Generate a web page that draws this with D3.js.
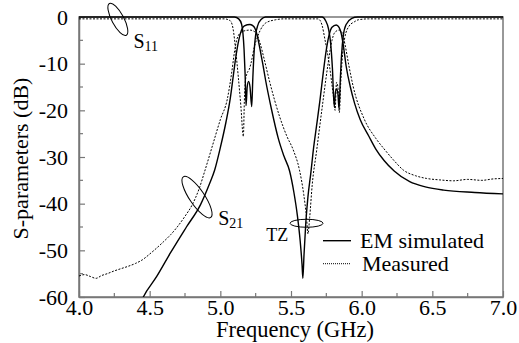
<!DOCTYPE html>
<html>
<head>
<meta charset="utf-8">
<script src="https://cdn.jsdelivr.net/npm/d3@7"></script>
<style>
  body { margin: 0; background: #fff; }
  svg text { font-family: "Liberation Serif", "Times New Roman", Tinos, "DejaVu Serif", serif; fill: #000; }
</style>
</head>
<body>
<div id="chart"></div>
<script>
// S-parameter traces, [frequency GHz, dB]
var s21Em = [[4.40,-64],[4.455,-60],[4.55,-55.6],[4.65,-50.4],[4.76,-45],[4.86,-40.2],[4.92,-36],[4.96,-32.8],
  [5.00,-28],[5.04,-22.5],[5.07,-17.5],[5.09,-13],[5.11,-8.5],[5.13,-5],[5.15,-2.8],[5.17,-1.9],[5.21,-1.6],
  [5.235,-2.0],[5.25,-2.8],[5.265,-4.5],[5.28,-6.8],[5.30,-10],[5.32,-13.5],[5.36,-19.5],[5.41,-26],[5.45,-29.8],
  [5.49,-33],[5.52,-37.5],[5.545,-42.5],[5.565,-48],[5.578,-53],[5.584,-56],[5.592,-51],[5.605,-44],[5.62,-38.5],
  [5.64,-33.5],[5.66,-28],[5.68,-23.5],[5.705,-17.8],[5.73,-11.5],[5.75,-7],[5.77,-3.8],[5.79,-2.2],[5.82,-1.7],
  [5.84,-2.2],[5.855,-3.5],[5.87,-6],[5.89,-10.5],[5.92,-15],[5.95,-18.5],[5.99,-22],[6.05,-25.5],[6.10,-28.3],
  [6.16,-30.8],[6.23,-33],[6.34,-35.3],[6.45,-36.4],[6.58,-37.1],[6.8,-37.6],[7.0,-37.9]];

var s21Meas = [[4.0,-55.5],[4.04,-55.2],[4.08,-55.6],[4.12,-56.0],[4.16,-55.4],[4.20,-55.0],[4.25,-54.4],[4.30,-53.9],
  [4.35,-53.4],[4.40,-52.8],[4.45,-52.0],[4.50,-50.8],[4.55,-49.5],[4.60,-48.1],[4.65,-46.6],[4.70,-44.8],[4.75,-42.7],
  [4.80,-40.3],[4.85,-36.8],[4.89,-33],[4.94,-28],[5.00,-22],[5.05,-17.5],[5.08,-12],[5.10,-7.5],[5.12,-4.5],
  [5.15,-3.2],[5.18,-2.9],[5.21,-2.8],[5.24,-3.1],[5.26,-3.8],[5.28,-5.5],[5.31,-9],[5.35,-14],[5.42,-21.4],
  [5.47,-25.5],[5.516,-28.5],[5.56,-32.8],[5.59,-38],[5.61,-43],[5.62,-46.5],[5.632,-43],[5.65,-36],[5.682,-28.5],
  [5.72,-19.5],[5.76,-10.5],[5.79,-5],[5.81,-3.3],[5.84,-2.8],[5.86,-3.3],[5.88,-5.6],[5.91,-10.5],[5.94,-14.9],
  [6.02,-22],[6.10,-26],[6.165,-28.5],[6.23,-30.8],[6.295,-32.8],[6.38,-34],[6.46,-34.6],[6.55,-34.9],[6.65,-35.1],
  [6.75,-34.8],[6.85,-35.0],[6.93,-34.7],[7.0,-34.6]];

var s11Em = [[4.0,0],[5.10,0],[5.13,-0.4],[5.15,-1.5],[5.16,-3.5],[5.168,-7],[5.175,-12],[5.182,-19],[5.19,-15],
  [5.20,-13.8],[5.21,-15],[5.222,-19.2],[5.23,-13],[5.24,-7],[5.25,-3.8],[5.265,-1.8],[5.29,-0.5],[5.32,0],
  [5.72,0],[5.745,-0.8],[5.765,-2.5],[5.78,-5.5],[5.793,-11],[5.806,-19.2],[5.815,-16],[5.823,-15.4],[5.832,-16.5],
  [5.84,-19.6],[5.848,-14],[5.858,-8],[5.87,-4],[5.89,-1.6],[5.93,-0.3],[5.97,0],[7.0,0]];

var s11Meas = [[4.0,-0.4],[5.03,-0.4],[5.07,-0.8],[5.09,-2.5],[5.11,-7.5],[5.127,-12.8],[5.145,-19],[5.163,-25.6],
  [5.17,-18],[5.178,-13.5],[5.19,-12],[5.205,-11.2],[5.22,-9.5],[5.24,-6.5],[5.26,-4.5],[5.28,-3],[5.32,-1.3],
  [5.39,-0.6],[5.45,-0.4],[5.69,-0.4],[5.705,-0.7],[5.72,-1.8],[5.74,-4.8],[5.77,-10],[5.80,-17],[5.812,-20],
  [5.822,-14],[5.832,-15],[5.842,-20.5],[5.852,-14],[5.865,-8],[5.88,-4.5],[5.91,-2],[5.95,-1],[5.976,-0.6],
  [6.05,-0.4],[7.0,-0.4]];

var xTicks = [4.0, 4.5, 5.0, 5.5, 6.0, 6.5, 7.0];
var yTicks = [0, -10, -20, -30, -40, -50, -60];

var serif = '"Liberation Serif", "Times New Roman", Tinos, "DejaVu Serif", serif';

var margin = {top: 17, right: 16, bottom: 46, left: 79},
    width = 519 - margin.left - margin.right,
    height = 343 - margin.top - margin.bottom;

var svg = d3.select("#chart").append("svg")
    .attr("width", 519)
    .attr("height", 343)
    .style("font-family", serif)
  .append("g")
    .attr("transform", "translate(" + margin.left + "," + margin.top + ")");

var x = d3.scaleLinear().domain([4.0, 7.0]).range([0, width]);
var y = d3.scaleLinear().domain([-60, 0]).range([height, 0]);

svg.append("clipPath").attr("id", "clip")
  .append("rect").attr("width", width).attr("height", height + 1).attr("y", -1);

// frame
svg.append("rect")
    .attr("width", width).attr("height", height)
    .attr("fill", "none").attr("stroke", "#777").attr("stroke-width", 1.5);

// minor ticks (inward)
var xMinor = d3.range(4.25, 7.0, 0.5);
var yMinor = d3.range(-55, 0, 10);
svg.selectAll(".xminor").data(xMinor).enter().append("line")
    .attr("x1", function(d) { return x(d); }).attr("x2", function(d) { return x(d); })
    .attr("y1", height).attr("y2", height - 4)
    .attr("stroke", "#777").attr("stroke-width", 1.2);
svg.selectAll(".yminor").data(yMinor).enter().append("line")
    .attr("x1", 0).attr("x2", 4)
    .attr("y1", function(d) { return y(d); }).attr("y2", function(d) { return y(d); })
    .attr("stroke", "#777").attr("stroke-width", 1.2);

// axes with inward major ticks
var xAxis = svg.append("g")
    .attr("transform", "translate(0," + height + ")")
    .call(d3.axisBottom(x).tickValues(xTicks).tickFormat(d3.format(".1f")).tickSizeInner(-6).tickSizeOuter(0).tickPadding(10));
var yAxis = svg.append("g")
    .call(d3.axisLeft(y).tickValues(yTicks).tickFormat(function(d) { return d; }).tickSizeInner(-6).tickSizeOuter(0).tickPadding(12));

[xAxis, yAxis].forEach(function(a) {
  a.attr("font-family", serif).attr("font-size", 22);
  a.select(".domain").attr("stroke", "#777").attr("stroke-width", 1.5);
  a.selectAll(".tick line").attr("stroke", "#777").attr("stroke-width", 1.2);
  a.selectAll("text").attr("fill", "#000");
});
xAxis.selectAll("text").attr("dy", "0.71em").attr("y", 2);
yAxis.selectAll("text").attr("x", -11);

var line = d3.line()
    .x(function(d) { return x(d[0]); })
    .y(function(d) { return y(d[1]); })
    .curve(d3.curveMonotoneX);

var plot = svg.append("g").attr("clip-path", "url(#clip)");

plot.append("path").datum(s11Meas).attr("d", line)
    .attr("fill", "none").attr("stroke", "#000").attr("stroke-width", 1).attr("stroke-dasharray", "2,1.5");
plot.append("path").datum(s21Meas).attr("d", line)
    .attr("fill", "none").attr("stroke", "#000").attr("stroke-width", 1).attr("stroke-dasharray", "2,1.5");
plot.append("path").datum(s11Em).attr("d", line)
    .attr("fill", "none").attr("stroke", "#000").attr("stroke-width", 1.4);
plot.append("path").datum(s21Em).attr("d", line)
    .attr("fill", "none").attr("stroke", "#000").attr("stroke-width", 1.4);

// annotation ellipses
function ellipse(cx, cy, rx, ry, angle) {
  svg.append("ellipse")
    .attr("cx", cx).attr("cy", cy).attr("rx", rx).attr("ry", ry)
    .attr("transform", "rotate(" + angle + "," + cx + "," + cy + ")")
    .attr("fill", "none").attr("stroke", "#000").attr("stroke-width", 1);
}
ellipse(x(4.275), y(-0.5), 18, 6, 62);
ellipse(x(4.835), y(-38.6), 24.5, 7.5, 56);
ellipse(x(5.61), y(-44.2), 16.5, 4, 0);

// labels
var s11 = svg.append("text").attr("x", x(4.385)).attr("y", y(-6.6)).style("font-size", "20px");
s11.append("tspan").text("S");
s11.append("tspan").attr("dy", 3).style("font-size", "14px").text("11");

var s21 = svg.append("text").attr("x", x(4.985)).attr("y", y(-44.5)).style("font-size", "20px");
s21.append("tspan").text("S");
s21.append("tspan").attr("dy", 3).style("font-size", "14px").text("21");

svg.append("text").attr("x", x(5.325)).attr("y", y(-48.1)).style("font-size", "18px").text("TZ");

// legend
var legend = svg.append("g").attr("transform", "translate(" + (323 - margin.left) + "," + (240.7 - margin.top) + ")");
legend.append("line").attr("x1", 0).attr("x2", 28).attr("y1", 0).attr("y2", 0)
    .attr("stroke", "#000").attr("stroke-width", 1.4);
legend.append("text").attr("x", 37).attr("y", 7).style("font-size", "22px").text("EM simulated");
legend.append("line").attr("x1", 0).attr("x2", 28).attr("y1", 23).attr("y2", 23)
    .attr("stroke", "#000").attr("stroke-width", 1).attr("stroke-dasharray", "1,1");
legend.append("text").attr("x", 39).attr("y", 30).style("font-size", "22px").text("Measured");

// axis titles
svg.append("text")
    .attr("x", width / 2 + 4).attr("y", height + 40)
    .style("text-anchor", "middle").style("font-size", "22.5px")
    .text("Frequency (GHz)");
svg.append("text")
    .attr("transform", "rotate(-90)")
    .attr("x", -(158.5 - margin.top)).attr("y", 28 - margin.left)
    .style("text-anchor", "middle").style("font-size", "22px")
    .text("S-parameters (dB)");
</script>
</body>
</html>
